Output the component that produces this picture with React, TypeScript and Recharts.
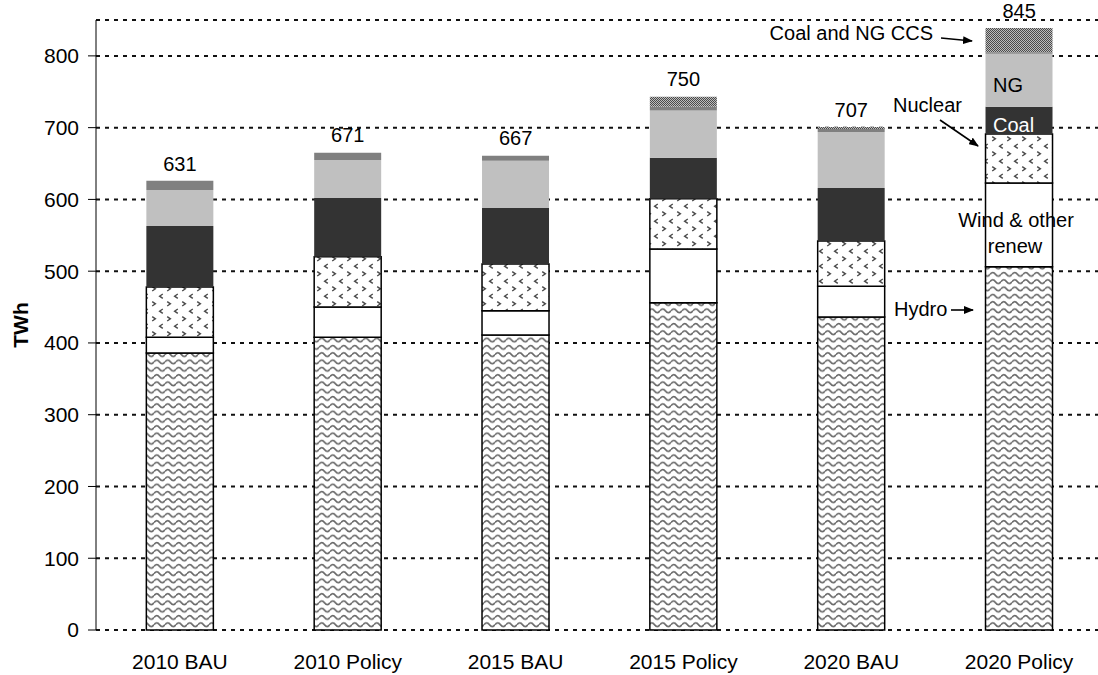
import React from "react";
import { ComposedChart, Bar, Line, XAxis, YAxis, CartesianGrid, LabelList } from "recharts";

const categories = ["2010 BAU", "2010 Policy", "2015 BAU", "2015 Policy", "2020 BAU", "2020 Policy"];
const hydro = [386, 408, 411, 456, 436, 506];
const windOther = [22, 42, 34, 75, 43, 117];
const nuclear = [70, 70, 65, 70, 63, 68];
const coal = [85, 82, 78, 57, 74, 38];
const naturalGas = [50, 53, 66, 66, 78, 74];
const otherFossil = [13, 10, 7, 5, 4, 2];
const coalNgCcs = [0, 0, 0, 14, 3, 34];
const totals = [631, 671, 667, 750, 707, 845];
const yTicks = [0, 100, 200, 300, 400, 500, 600, 700, 800];
const categoryEdges = [0, 1, 2, 3, 4, 5, 6];

const data = categories.map((name, i) => ({
  name,
  hydro: hydro[i],
  wind: windOther[i],
  nuclear: nuclear[i],
  coal: coal[i],
  ng: naturalGas[i],
  other: otherFossil[i],
  ccs: coalNgCcs[i],
  total: totals[i],
}));

const FONT = '"Liberation Sans", Arial, sans-serif';

const renderTotal = (props: any) => {
  const vb = props.viewBox || {};
  const x = props.x ?? vb.x;
  const y = props.y ?? vb.y;
  return (
    <text x={x} y={y - 6} textAnchor="middle" fontFamily={FONT} fontSize={20} fill="#000">
      {props.value}
    </text>
  );
};

const Patterns = () => (
  <svg width={0} height={0} style={{ position: "absolute" }}>
    <defs>
      <pattern id="hydroPat" width={11} height={7.3} patternUnits="userSpaceOnUse">
        <rect width={11} height={7.3} fill="#fff" />
        <path d="M0,4.2 Q2.75,0.6 5.5,4.2 T11,4.2" fill="none" stroke="#6a6a6a" strokeWidth={1.6} />
      </pattern>
      <pattern id="nuclearPat" width={15} height={15} patternUnits="userSpaceOnUse">
        <rect width={15} height={15} fill="#fff" />
        <path d="M2.2,1.6 L5.4,3.8 L2.2,6" fill="none" stroke="#4a4a4a" strokeWidth={1.4} />
        <path d="M12.8,9 L9.6,11.2 L12.8,13.4" fill="none" stroke="#4a4a4a" strokeWidth={1.4} />
      </pattern>
      <pattern id="ccsPat" width={2} height={2} patternUnits="userSpaceOnUse">
        <rect width={2} height={2} fill="#4a4a4a" />
        <rect x={1} y={0} width={1} height={1} fill="#bdbdbd" />
        <rect x={0} y={1} width={1} height={1} fill="#bdbdbd" />
      </pattern>
      <marker id="arrowHead" viewBox="0 0 10 8" refX={9} refY={4} markerWidth={10} markerHeight={8} markerUnits="userSpaceOnUse" orient="auto">
        <path d="M0,0 L10,4 L0,8 z" fill="#000" />
      </marker>
    </defs>
  </svg>
);

const Annotations = () => (
  <svg
    width={1098}
    height={675}
    style={{ position: "absolute", left: 0, top: 0, pointerEvents: "none" }}
    fontFamily={FONT}
    fontSize={20}
  >
    <text x={20} y={325} transform="rotate(-90 20 325)" textAnchor="middle" dominantBaseline="central" fontWeight="bold" fontSize={21}>
      TWh
    </text>
    <text x={933} y={40} textAnchor="end">Coal and NG CCS</text>
    <line x1={941} y1={38} x2={972} y2={41} stroke="#000" strokeWidth={1.6} markerEnd="url(#arrowHead)" />
    <text x={893} y={112}>Nuclear</text>
    <line x1={940} y1={120} x2={978} y2={146} stroke="#000" strokeWidth={1.6} markerEnd="url(#arrowHead)" />
    <text x={993} y={92}>NG</text>
    <text x={993} y={132} fill="#fff">Coal</text>
    <text x={1016} y={227} textAnchor="middle">Wind &amp; other</text>
    <text x={1015} y={253} textAnchor="middle">renew</text>
    <text x={894} y={316}>Hydro</text>
    <line x1={951} y1={310} x2={973} y2={310} stroke="#000" strokeWidth={1.6} markerEnd="url(#arrowHead)" />
  </svg>
);

export default function App() {
  return (
    <div style={{ position: "absolute", left: 0, top: 0, width: 1098, height: 675, overflow: "hidden", background: "#fff" }}>
      <Patterns />
      <ComposedChart
        width={1110}
        height={675}
        data={data}
        margin={{ top: 20, right: 7, left: 0, bottom: 0 }}
        barCategoryGap="30%"
      >
        <CartesianGrid
          xAxisId="cat"
          vertical={false}
          stroke="#111"
          strokeWidth={2}
          strokeDasharray="4 5"
        />
        <XAxis
          xAxisId="edges"
          type="number"
          domain={[0, 6]}
          ticks={categoryEdges}
          allowDataOverflow
          tick={false}
          tickSize={8}
          height={0}
          axisLine={{ stroke: "#000", strokeWidth: 1 }}
          tickLine={{ stroke: "#000", strokeWidth: 1 }}
        />
        <XAxis
          xAxisId="cat"
          dataKey="name"
          axisLine={false}
          tickLine={false}
          tickSize={0}
          tickMargin={24}
          height={45}
          interval={0}
          tick={{ fill: "#000", fontSize: 21, fontFamily: FONT }}
        />
        <YAxis
          domain={[0, 850]}
          ticks={yTicks}
          width={96}
          tickSize={8}
          tickMargin={9}
          axisLine={{ stroke: "#000", strokeWidth: 1 }}
          tickLine={{ stroke: "#000", strokeWidth: 1 }}
          tick={{ fill: "#000", fontSize: 21, fontFamily: FONT }}
        />
        <Bar xAxisId="cat" dataKey="hydro" stackId="s" fill="url(#hydroPat)" stroke="#000" strokeWidth={1.5} isAnimationActive={false} />
        <Bar xAxisId="cat" dataKey="wind" stackId="s" fill="#fff" stroke="#000" strokeWidth={1.5} isAnimationActive={false} />
        <Bar xAxisId="cat" dataKey="nuclear" stackId="s" fill="url(#nuclearPat)" stroke="#000" strokeWidth={1.5} isAnimationActive={false} />
        <Bar xAxisId="cat" dataKey="coal" stackId="s" fill="#333333" isAnimationActive={false} />
        <Bar xAxisId="cat" dataKey="ng" stackId="s" fill="#c0c0c0" isAnimationActive={false} />
        <Bar xAxisId="cat" dataKey="other" stackId="s" fill="#808080" isAnimationActive={false} />
        <Bar xAxisId="cat" dataKey="ccs" stackId="s" fill="url(#ccsPat)" isAnimationActive={false} />
        <Line
          xAxisId="cat"
          dataKey="total"
          stroke="none"
          dot={false}
          activeDot={false}
          legendType="none"
          isAnimationActive={false}
        >
          <LabelList dataKey="total" content={renderTotal} />
        </Line>
      </ComposedChart>
      <Annotations />
    </div>
  );
}
